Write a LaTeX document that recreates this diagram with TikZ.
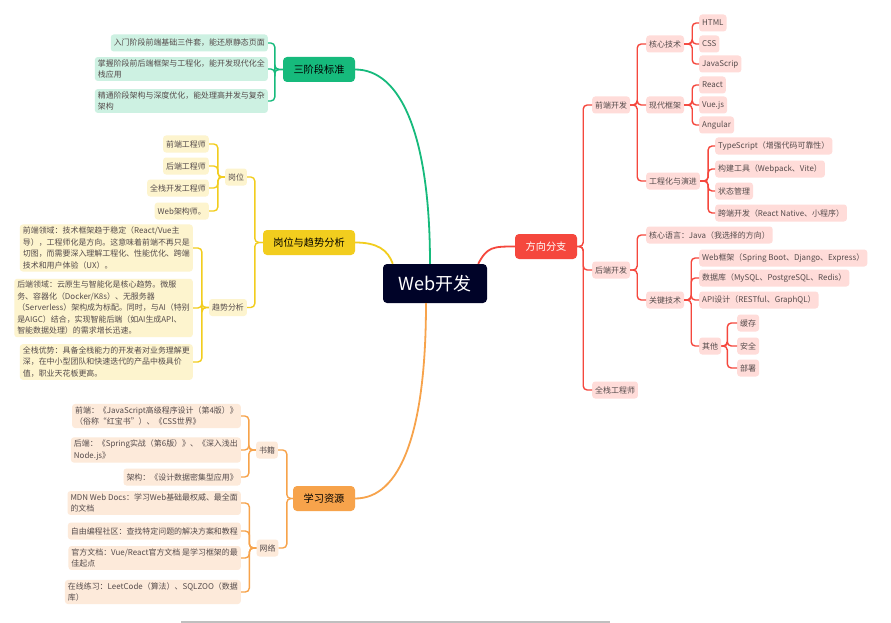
\documentclass[tikz,border=0pt]{standalone}
\usepackage{fontspec}
\setmainfont{Noto Sans CJK SC}
\usetikzlibrary{calc}
\definecolor{cdark}{RGB}{0,3,40}
\definecolor{gmainc}{RGB}{22,186,124}
\definecolor{gfill}{RGB}{205,241,226}
\definecolor{ymainc}{RGB}{242,205,30}
\definecolor{yfill}{RGB}{253,244,206}
\definecolor{omainc}{RGB}{247,163,75}
\definecolor{ofill}{RGB}{253,234,218}
\definecolor{rmainc}{RGB}{245,71,61}
\definecolor{rfill}{RGB}{255,220,217}
\definecolor{leaftext}{RGB}{85,75,75}
\begin{document}
\begin{tikzpicture}[x=1pt,y=-1pt,
  leaf/.style={rounded corners=3pt, inner xsep=3pt, inner ysep=2.5pt, minimum height=17pt,
    font=\fontsize{7.95}{11.5}\selectfont, align=left, text=leaftext},
  gleaf/.style={leaf, fill=gfill},
  yleaf/.style={leaf, fill=yfill},
  oleaf/.style={leaf, fill=ofill},
  rleaf/.style={leaf, fill=rfill},
  mainnode/.style={rounded corners=4pt, minimum height=25pt, inner xsep=2pt,
    font=\fontsize{10.2}{12}\selectfont},
  gconn/.style={draw=gmainc, line width=1.4pt, rounded corners=4pt},
  yconn/.style={draw=ymainc, line width=1.4pt, rounded corners=4pt},
  oconn/.style={draw=omainc, line width=1.4pt, rounded corners=4pt},
  rconn/.style={draw=rmainc, line width=1.4pt, rounded corners=4pt},
  curve/.style={line width=1.8pt}
]
\useasboundingbox (0,0) rectangle (891,623);
\fill[white] (0,0) rectangle (891,623);

% centre
\node[fill=cdark, text=white, rounded corners=4pt, minimum width=104pt, minimum height=39pt,
  font=\fontsize{18}{20}\selectfont] (c) at (435,283.5) {Web开发};

% main branches
\node[mainnode, fill=gmainc, minimum width=72pt] (sj) at (319,69.5) {三阶段标准};
\node[mainnode, fill=ymainc, minimum width=92pt] (gw) at (309,242.5) {岗位与趋势分析};
\node[mainnode, fill=omainc, minimum width=62pt] (xx) at (324,498.5) {学习资源};
\node[mainnode, fill=rmainc, text=white, minimum width=62pt] (fx) at (546,246.5) {方向分支};

% green children
\node[gleaf, anchor=east] (g1) at (268,43) {入门阶段前端基础三件套，能还原静态页面};
\node[gleaf, anchor=east] (g2) at (268,69) {掌握阶段前后端框架与工程化，能开发现代化全\\栈应用};
\node[gleaf, anchor=east] (g3) at (268,101) {精通阶段架构与深度优化，能处理高并发与复杂\\架构};

% yellow
\node[yleaf] (gwei) at (236,177) {岗位};
\node[yleaf] (qs) at (228,307.5) {趋势分析};
\node[yleaf, anchor=east] (y11) at (209,144) {前端工程师};
\node[yleaf, anchor=east] (y12) at (209,166) {后端工程师};
\node[yleaf, anchor=east] (y13) at (209,188) {全栈开发工程师};
\node[yleaf, anchor=east] (y14) at (209,211) {Web架构师。};
\node[yleaf, anchor=east] (y21) at (193,248) {前端领域：技术框架趋于稳定（React/Vue主\\导），工程师化是方向。这意味着前端不再只是\\切图，而需要深入理解工程化、性能优化、跨端\\技术和用户体验（UX）。};
\node[yleaf, anchor=east] (y22) at (193,308) {后端领域：云原生与智能化是核心趋势。微服\\务、容器化（Docker/K8s）、无服务器\\（Serverless）架构成为标配。同时，与AI（特别\\是AIGC）结合，实现智能后端（如AI生成API、\\智能数据处理）的需求增长迅速。};
\node[yleaf, anchor=east] (y23) at (193,362) {全栈优势：具备全栈能力的开发者对业务理解更\\深，在中小型团队和快速迭代的产品中极具价\\值，职业天花板更高。};

% orange
\node[oleaf] (sji) at (267,450) {书籍};
\node[oleaf] (wl) at (267.5,548) {网络};
\node[oleaf, anchor=east] (o11) at (241,416) {前端：《JavaScript高级程序设计（第4版）》\\（俗称“红宝书”）、《CSS世界》};
\node[oleaf, anchor=east] (o12) at (241,450) {后端：《Spring实战（第6版）》、《深入浅出\\Node.js》};
\node[oleaf, anchor=east] (o13) at (241,477) {架构：《设计数据密集型应用》};
\node[oleaf, anchor=east] (o21) at (241,503) {MDN Web Docs：学习Web基础最权威、最全面\\的文档};
\node[oleaf, anchor=east] (o22) at (241,531) {自由编程社区：查找特定问题的解决方案和教程};
\node[oleaf, anchor=east] (o23) at (241,558) {官方文档：Vue/React官方文档 是学习框架的最\\佳起点};
\node[oleaf, anchor=east] (o24) at (241,592) {在线练习：LeetCode（算法）、SQLZOO（数据\\库）};

% red
\node[rleaf, anchor=west] (qd) at (592,105) {前端开发};
\node[rleaf, anchor=west] (hd) at (592,270) {后端开发};
\node[rleaf, anchor=west] (qz) at (592,390) {全栈工程师};
\node[rleaf, anchor=west] (hx) at (646,44) {核心技术};
\node[rleaf, anchor=west] (xd) at (646,105) {现代框架};
\node[rleaf, anchor=west] (gc) at (646,181) {工程化与演进};
\node[rleaf, anchor=west] (r1) at (699,23) {HTML};
\node[rleaf, anchor=west] (r2) at (699,44) {CSS};
\node[rleaf, anchor=west] (r3) at (699,64) {JavaScrip};
\node[rleaf, anchor=west] (r4) at (699,85) {React};
\node[rleaf, anchor=west] (r5) at (699,105) {Vue.js};
\node[rleaf, anchor=west] (r6) at (699,125) {Angular};
\node[rleaf, anchor=west] (r7) at (715,146) {TypeScript（增强代码可靠性）};
\node[rleaf, anchor=west] (r8) at (715,169) {构建工具（Webpack、Vite）};
\node[rleaf, anchor=west] (r9) at (715,191) {状态管理};
\node[rleaf, anchor=west] (r10) at (715,213) {跨端开发（React Native、小程序）};
\node[rleaf, anchor=west] (hy) at (646,235) {核心语言：Java（我选择的方向）};
\node[rleaf, anchor=west] (gj) at (646,300) {关键技术};
\node[rleaf, anchor=west] (k1) at (699,258) {Web框架（Spring Boot、Django、Express）};
\node[rleaf, anchor=west] (k2) at (699,278) {数据库（MySQL、PostgreSQL、Redis）};
\node[rleaf, anchor=west] (k3) at (699,300) {API设计（RESTful、GraphQL）};
\node[rleaf, anchor=west] (qt) at (699,346) {其他};
\node[rleaf, anchor=west] (q1) at (737,323) {缓存};
\node[rleaf, anchor=west] (q2) at (737,346) {安全};
\node[rleaf, anchor=west] (q3) at (737,368) {部署};

% main curves
\draw[curve, gmainc] ($(c.north)+(-5,0)$) .. controls ($(c.north)+(-5,-130)$) and ($(sj.east)+(45,0)$) .. (sj.east);
\draw[curve, ymainc] ($(c.north west)+(10,0)$) .. controls ($(c.north west)+(5,-14)$) and ($(gw.east)+(22,0)$) .. (gw.east);
\draw[curve, omainc] ($(c.south)+(-9,0)$) .. controls ($(c.south)+(-9,130)$) and ($(xx.east)+(45,0)$) .. (xx.east);
\draw[curve, rmainc] ($(c.north east)+(-9,0)$) .. controls ($(c.north east)+(0,-17)$) and ($(fx.west)+(-22,0)$) .. (fx.west);

% left connectors
\foreach \n in {g1,g2,g3} \draw[gconn] (sj.west) -- ++(-8,0) |- (\n.east);
\foreach \n in {gwei,qs} \draw[yconn] (gw.west) -- ++(-8,0) |- (\n.east);
\foreach \n in {y11,y12,y13,y14} \draw[yconn] (gwei.west) -- ++(-7,0) |- (\n.east);
\foreach \n in {y21,y22,y23} \draw[yconn] (qs.west) -- ++(-7,0) |- (\n.east);
\foreach \n in {sji,wl} \draw[oconn] (xx.west) -- ++(-6,0) |- (\n.east);
\foreach \n in {o11,o12,o13} \draw[oconn] (sji.west) -- ++(-7,0) |- (\n.east);
\foreach \n in {o21,o22,o23,o24} \draw[oconn] (wl.west) -- ++(-7,0) |- (\n.east);

% right connectors
\foreach \n in {qd,hd,qz} \draw[rconn] (fx.east) -- ++(6,0) |- (\n.west);
\foreach \n in {hx,xd,gc} \draw[rconn] (qd.east) -- ++(7,0) |- (\n.west);
\foreach \n in {hy,gj} \draw[rconn] (hd.east) -- ++(7,0) |- (\n.west);
\foreach \n in {r1,r2,r3} \draw[rconn] (hx.east) -- ++(8,0) |- (\n.west);
\foreach \n in {r4,r5,r6} \draw[rconn] (xd.east) -- ++(8,0) |- (\n.west);
\foreach \n in {r7,r8,r9,r10} \draw[rconn] (gc.east) -- ++(8,0) |- (\n.west);
\foreach \n in {k1,k2,k3,qt} \draw[rconn] (gj.east) -- ++(7,0) |- (\n.west);
\foreach \n in {q1,q2,q3} \draw[rconn] (qt.east) -- ++(6,0) |- (\n.west);

% bottom scroll line
\draw[line width=1.5pt, black!25] (181,622) -- (610,622);
\end{tikzpicture}
\end{document}
